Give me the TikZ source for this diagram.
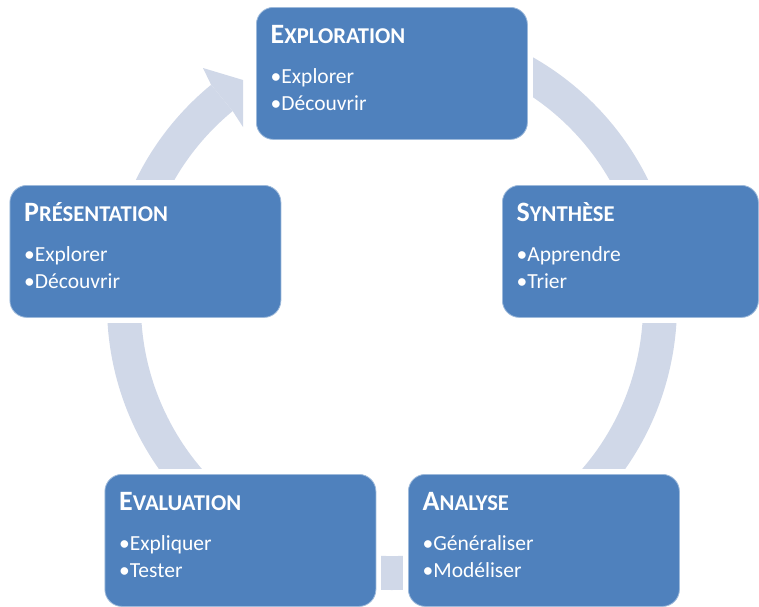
\documentclass[tikz,border=0pt]{standalone}
\usepackage{fontspec}
\setmainfont{Carlito}
\usetikzlibrary{calc,backgrounds}
\definecolor{boxblue}{RGB}{79,129,189}
\definecolor{ringc}{RGB}{208,216,232}
\newcommand{\stagettl}[2]{{\fontsize{28}{28}\selectfont #1}{\fontsize{22.6}{22.6}\selectfont #2}}
\tikzset{
  stagebox/.style={rectangle, rounded corners=17pt, fill=boxblue, draw=boxblue!55!white,
    line width=0.8pt, minimum width=271pt, minimum height=132pt, inner sep=0pt, anchor=north west},
  ttl/.style={anchor=base west, inner sep=0pt, text=white, font=\bfseries},
  bul/.style={anchor=base west, inner sep=0pt, text=white, font=\fontsize{21.5}{25}\selectfont},
}
\begin{document}
\begin{tikzpicture}[x=1pt,y=1pt]
\useasboundingbox (0,0) rectangle (759,-606);
% boxes
\node[stagebox] (expl) at (256,-7) {};
\node[stagebox] (pres) at (9.5,-185) {};
\node[stagebox, minimum width=256pt] (synt) at (502,-185) {};
\node[stagebox] (eval) at (104.5,-474) {};
\node[stagebox] (anal) at (408,-474) {};
% texts
\foreach \b/\t/\u/\v in {expl/{\stagettl{E}{XPLORATION}}/Explorer/Découvrir,
                         pres/{\stagettl{P}{RÉSENTATION}}/Explorer/Découvrir,
                         synt/{\stagettl{S}{YNTHÈSE}}/Apprendre/Trier,
                         eval/{\stagettl{E}{VALUATION}}/Expliquer/Tester,
                         anal/{\stagettl{A}{NALYSE}}/Généraliser/Modéliser}{
  \node[ttl] (\b-t) at ([shift={(14.5,-36.5)}]\b.north west) {\t};
  \node[bul] (\b-a) at ([shift={(14.5,-76)}]\b.north west) {•\u};
  \node[bul] (\b-b) at ([shift={(14.5,-103)}]\b.north west) {•\v};
}
% ring behind
\begin{pgfonlayer}{background}
  \fill[white] (0,0) rectangle (759,-606);
  \coordinate (c) at (392,-305);
  \fill[ringc] ($(c)+(129.4:285)$) arc[start angle=129.4, end angle=435, radius=285]
     -- ($(c)+(435:251)$) arc[start angle=435, end angle=129.4, radius=251] -- cycle;
  \fill[ringc] ($(c)+(129.4:285)$) -- (203,-68) -- (243,-80) -- (243,-127)
     -- ($(c)+(129.4:251)$) -- cycle;
  \foreach \b in {expl,pres,synt,eval,anal}{
    \fill[white] ([shift={(-5,5)}]\b.north west) rectangle ([shift={(5,-5)}]\b.south east);
  }
\end{pgfonlayer}
\end{tikzpicture}
\end{document}
